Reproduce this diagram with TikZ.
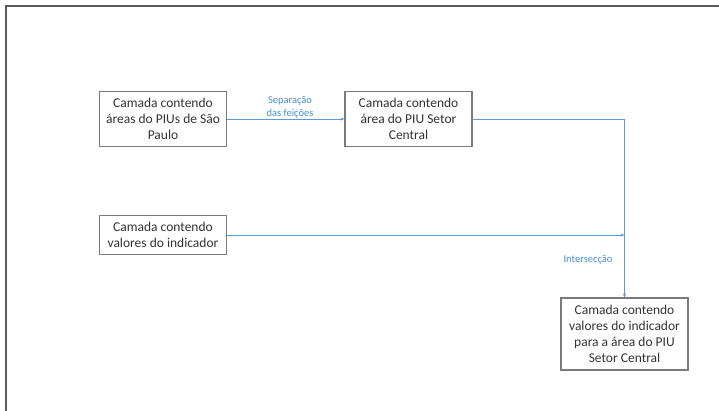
\documentclass[tikz,border=0pt]{standalone}
\usepackage{fontspec}
\setmainfont{Carlito}
\usetikzlibrary{arrows.meta}
\definecolor{lineblue}{HTML}{5B9BD5}
\definecolor{labelblue}{HTML}{4A90D0}
\definecolor{boxgray}{HTML}{7A7A7A}
\definecolor{txtgray}{HTML}{333333}
\definecolor{framegray}{HTML}{5A5A5A}
\begin{document}
\begin{tikzpicture}[x=1pt,y=-1pt,
  box/.style={draw=boxgray,line width=1.1pt,fill=white,text=txtgray,
    minimum width=127pt,inner sep=0pt,align=center,
    font=\fontsize{13.5}{16}\selectfont},
  conn/.style={draw=lineblue,line width=0.7pt,-{Stealth[length=4pt,width=3.2pt]}},
  lbl/.style={text=labelblue,align=center,font=\fontsize{10.5}{13}\selectfont}]
\useasboundingbox (0,0) rectangle (719,410);
\fill[white] (0,0) rectangle (719,410);
\draw[framegray,line width=1.2pt] (6,412) -- (6,6) -- (721,6);
\node[box,minimum height=55pt] (A) at (163,119) {Camada contendo\\áreas do PIUs de São\\Paulo};
\node[box,minimum height=55pt] (B) at (408.5,119) {Camada contendo\\área do PIU Setor\\Central};
\node[box,minimum height=39pt] (C) at (163,235) {Camada contendo\\valores do indicador};
\node[box,minimum height=72pt] (D) at (624.5,334) {Camada contendo\\valores do indicador\\para a área do PIU\\Setor Central};
\draw[conn] (A.east) -- (B.west);
\draw[conn] (B.east) -| (D.north);
\coordinate (J) at (C.east -| D.north);
\draw[conn] (C.east) -- (J);
\node[lbl] (L1) at (290,107) {Separação\\das feições};
\node[lbl] (L2) at (588,260) {Intersecção};
\end{tikzpicture}
\end{document}
